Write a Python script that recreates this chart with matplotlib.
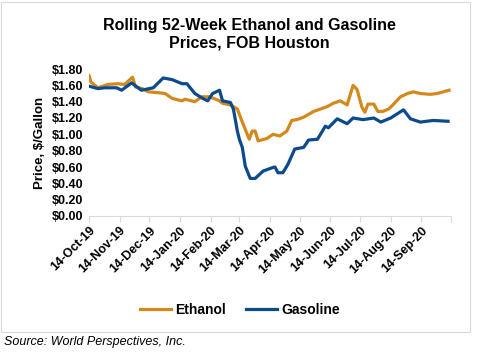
import numpy as np
import pandas as pd
import matplotlib
matplotlib.use("Agg")
import matplotlib.pyplot as plt
from matplotlib.patches import Rectangle

plt.rcParams['font.family'] = ['Liberation Sans', 'DejaVu Sans']

# values
eth_dates = ["2019-10-14", "2019-10-16", "2019-10-23", "2019-11-02", "2019-11-12", "2019-11-19",
             "2019-11-27", "2019-11-30", "2019-12-07", "2019-12-13", "2019-12-23", "2019-12-30",
             "2020-01-06", "2020-01-16", "2020-01-19", "2020-01-29", "2020-02-05", "2020-02-13",
             "2020-02-23", "2020-02-26", "2020-03-05", "2020-03-12", "2020-03-17", "2020-03-20",
             "2020-03-24", "2020-03-27", "2020-03-30", "2020-04-02", "2020-04-11", "2020-04-17",
             "2020-04-24", "2020-05-01", "2020-05-06", "2020-05-11", "2020-05-18", "2020-05-28",
             "2020-06-04", "2020-06-11", "2020-06-17", "2020-06-24", "2020-07-01", "2020-07-07",
             "2020-07-11", "2020-07-16", "2020-07-19", "2020-07-22", "2020-07-28", "2020-08-01",
             "2020-08-06", "2020-08-12", "2020-08-17", "2020-08-24", "2020-08-31", "2020-09-06",
             "2020-09-13", "2020-09-23", "2020-09-30", "2020-10-12"]
ethanol = [1.72, 1.64, 1.57, 1.61, 1.62, 1.61,
           1.70, 1.58, 1.56, 1.52, 1.51, 1.50,
           1.44, 1.41, 1.43, 1.40, 1.46, 1.46,
           1.41, 1.38, 1.36, 1.31, 1.15, 1.06,
           0.94, 1.04, 1.04, 0.92, 0.95, 1.00,
           0.98, 1.04, 1.17, 1.18, 1.21, 1.28,
           1.31, 1.34, 1.38, 1.41, 1.36, 1.60,
           1.55, 1.33, 1.27, 1.37, 1.37, 1.28,
           1.28, 1.31, 1.37, 1.46, 1.50, 1.52,
           1.50, 1.49, 1.50, 1.54]

gas_dates = ["2019-10-14", "2019-10-23", "2019-10-30", "2019-11-11", "2019-11-16", "2019-11-26",
             "2019-12-06", "2019-12-18", "2019-12-28", "2020-01-06", "2020-01-16", "2020-01-21",
             "2020-01-29", "2020-02-06", "2020-02-11", "2020-02-16", "2020-02-23", "2020-02-26",
             "2020-03-05", "2020-03-08", "2020-03-12", "2020-03-14", "2020-03-17", "2020-03-20",
             "2020-03-25", "2020-03-30", "2020-04-07", "2020-04-16", "2020-04-19", "2020-04-22",
             "2020-04-27", "2020-05-02", "2020-05-09", "2020-05-18", "2020-05-23", "2020-06-01",
             "2020-06-06", "2020-06-09", "2020-06-12", "2020-06-21", "2020-07-01", "2020-07-07",
             "2020-07-17", "2020-07-28", "2020-08-04", "2020-08-14", "2020-08-27", "2020-09-03",
             "2020-09-13", "2020-09-26", "2020-10-11"]
gasoline = [1.59, 1.56, 1.57, 1.57, 1.54, 1.63,
            1.54, 1.57, 1.69, 1.67, 1.62, 1.62,
            1.50, 1.44, 1.41, 1.50, 1.54, 1.41,
            1.39, 1.31, 1.04, 0.94, 0.84, 0.61,
            0.46, 0.46, 0.55, 0.59, 0.60, 0.53,
            0.53, 0.63, 0.82, 0.84, 0.93, 0.94,
            1.04, 1.10, 1.08, 1.19, 1.13, 1.20,
            1.18, 1.20, 1.15, 1.20, 1.30, 1.19,
            1.15, 1.17, 1.16]

tick_dates = pd.date_range("2019-10-01", "2020-10-01", freq="MS") + pd.Timedelta(days=13)
tick_labels = [d.strftime("%d-%b-%y") for d in tick_dates[:-1]] + [""]
y_ticks = np.arange(0, 1.81, 0.2)

fig = plt.figure(figsize=(4.8, 3.52), dpi=100)
fig.patches.append(Rectangle((1 / 480, 20 / 352), 469 / 480, 330 / 352, transform=fig.transFigure,
                             fill=False, edgecolor="#d9d9d9", linewidth=0.8))
ax = fig.add_axes([89 / 480, 1 - 216 / 352, 362 / 480, 147 / 352])

ax.plot(pd.to_datetime(eth_dates), ethanol, color="#d4891c", lw=2.3, label="Ethanol")
ax.plot(pd.to_datetime(gas_dates), gasoline, color="#0b4a8b", lw=2.3, label="Gasoline")

ax.set_xlim(pd.Timestamp("2019-10-14"), pd.Timestamp("2020-10-14"))
ax.set_ylim(0, 1.8)
ax.set_xticks(tick_dates)
ax.set_xticklabels(tick_labels, rotation=45, ha="right", rotation_mode="anchor",
                   fontsize=9, fontweight="bold")
ax.set_yticks(y_ticks)
ax.set_yticklabels(["${:.2f}".format(v) for v in y_ticks], fontsize=9, fontweight="bold")
ax.tick_params(axis="y", length=0, pad=4)
ax.tick_params(axis="x", length=4, color="#d9d9d9", pad=2)
for s in ["top", "right", "left"]:
    ax.spines[s].set_visible(False)
ax.spines["bottom"].set_color("#d9d9d9")
ax.set_ylabel("Price, $/Gallon", fontsize=9.5, fontweight="bold", labelpad=4)

fig.text(0.52, 0.95, "Rolling 52-Week Ethanol and Gasoline\nPrices, FOB Houston", ha="center",
         va="top", fontsize=11.5, fontweight="bold", linespacing=1.2)
fig.legend(loc="center", bbox_to_anchor=(0.5, 1 - 310 / 352), ncol=2, frameon=False,
           prop={"size": 10, "weight": "bold"}, handlelength=2.2, columnspacing=1.5,
           handletextpad=0.3)
fig.text(4 / 480, 1 - 342 / 352, "Source: World Perspectives, Inc.", fontsize=9, style="italic",
         va="center")

fig.savefig("out.png", dpi=100)
